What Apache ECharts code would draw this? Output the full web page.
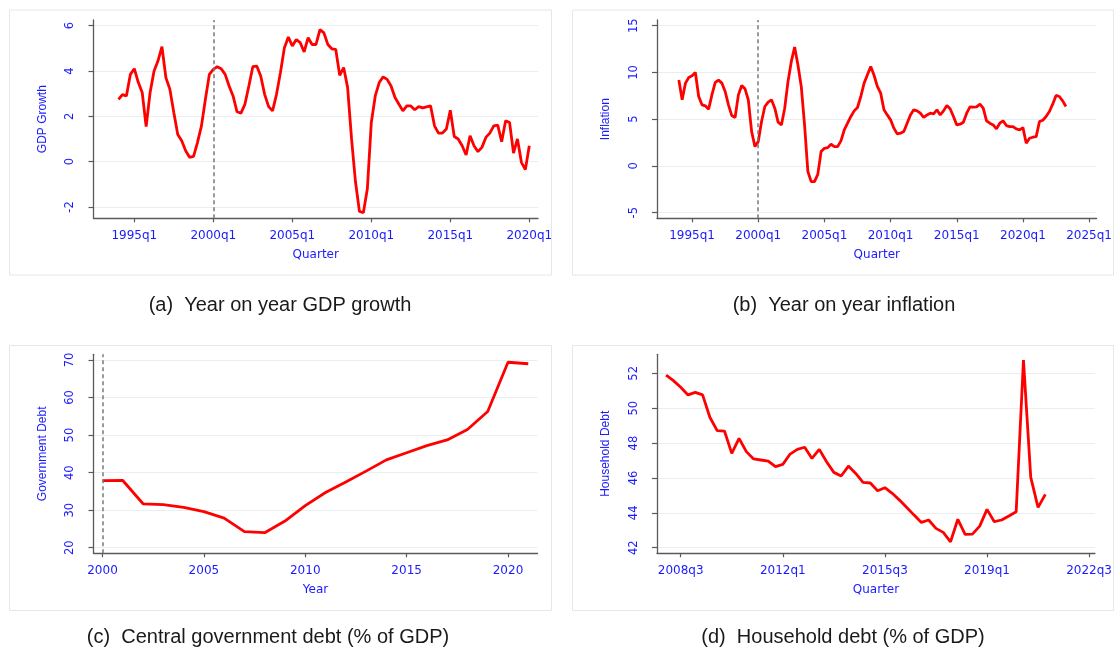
<!DOCTYPE html>
<html style="height: 100%">
<head>
    <meta charset="utf-8">
</head>
<body style="height: 100%; margin: 0; background: #fff">
<div id="container" style="width: 1115px; height: 650px"></div>
<script type="text/javascript" src="https://cdn.jsdelivr.net/npm/echarts@6/dist/echarts.min.js"></script>
<script type="text/javascript">
    // quarters are counted Stata style: 1960q1 = 0
    const gdpStart = 136; // 1994q1
    const gdpGrowth = [
        2.75, 2.96, 2.9, 3.85,
        4.1, 3.5, 3.05, 1.55,
        3.05, 4.0, 4.45, 5.07,
        3.7, 3.2, 2.17, 1.2,
        0.92, 0.48, 0.19, 0.23,
        0.85, 1.58, 2.75, 3.85,
        4.07, 4.19, 4.1, 3.85,
        3.34, 2.9, 2.2, 2.14,
        2.53, 3.34, 4.19, 4.22,
        3.78, 2.97, 2.43, 2.24,
        2.97, 3.93, 5.03, 5.5,
        5.1, 5.39, 5.25, 4.84,
        5.47, 5.17, 5.17, 5.83,
        5.68, 5.17, 4.98, 4.95,
        3.81, 4.15, 3.27, 1.0,
        -0.9, -2.2, -2.25, -1.2,
        1.73, 2.9, 3.49, 3.74,
        3.63, 3.34, 2.83, 2.53,
        2.24, 2.46, 2.46, 2.29,
        2.43, 2.37, 2.42, 2.46,
        1.58, 1.26, 1.26, 1.44,
        2.27, 1.11, 1.0, 0.7,
        0.29, 1.14, 0.7, 0.44,
        0.63, 1.07, 1.26, 1.58,
        1.61, 0.88, 1.8, 1.73,
        0.38, 1.0, -0.03, -0.35,
        0.7
    ];

    const inflStart = 136; // 1994q1
    const inflation = [
        9.2, 7.07, 8.86, 9.46,
        9.64, 10.0, 7.43, 6.54,
        6.43, 6.07, 7.6, 8.93,
        9.18, 8.86, 7.96, 6.54,
        5.39, 5.18, 7.6, 8.6,
        8.25, 7.07, 3.68, 2.07,
        2.6, 4.75, 6.36, 6.82,
        7.07, 6.18, 4.68, 4.39,
        6.18, 9.04, 11.18, 12.71,
        10.8, 8.5, 4.39, -0.6,
        -1.68, -1.68, -0.9, 1.54,
        1.89, 1.96, 2.32, 2.07,
        2.07, 2.68, 3.86, 4.57,
        5.29, 5.89, 6.25, 7.43,
        8.86, 9.75, 10.64, 9.7,
        8.5, 7.79, 6.0, 5.46,
        4.93, 4.04, 3.43, 3.5,
        3.68, 4.57, 5.46, 6.0,
        5.89, 5.64, 5.18, 5.46,
        5.64, 5.57, 6.0, 5.46,
        5.89, 6.46, 6.11, 5.29,
        4.39, 4.46, 4.68, 5.64,
        6.32, 6.29, 6.32, 6.61,
        6.18, 4.82, 4.57, 4.39,
        3.96, 4.57, 4.82, 4.32,
        4.21, 4.21, 3.96, 3.86,
        4.1, 2.43, 2.96, 3.07,
        3.14, 4.75, 4.89, 5.29,
        5.82, 6.61, 7.54, 7.43,
        6.96, 6.36
    ];

    const debtYears = [2000, 2001, 2002, 2003, 2004, 2005, 2006, 2007, 2008, 2009, 2010,
        2011, 2012, 2013, 2014, 2015, 2016, 2017, 2018, 2019, 2020, 2021];
    const govDebt = [37.85, 37.9, 31.7, 31.45, 30.75, 29.6, 27.9, 24.3, 24.0, 27.1, 31.2,
        34.7, 37.5, 40.4, 43.4, 45.3, 47.2, 48.7, 51.5, 56.3, 69.4, 69.0];

    const hhStart = 192; // 2008q1
    const hhDebt = [
        51.9, 51.58, 51.2, 50.76,
        50.91, 50.76, 49.48, 48.71,
        48.69, 47.41, 48.27, 47.51,
        47.09, 47.03, 46.97, 46.65,
        46.78, 47.37, 47.64, 47.76,
        47.12, 47.64, 46.93, 46.32,
        46.11, 46.68, 46.26, 45.75,
        45.71, 45.27, 45.44, 45.12,
        44.73, 44.31, 43.87, 43.45,
        43.59, 43.11, 42.88, 42.34,
        43.63, 42.76, 42.78, 43.24,
        44.2, 43.49, 43.59, 43.82,
        44.06, 52.76, 46.03, 44.31,
        45.06
    ];

    const gdpTicksX = [140, 160, 180, 200, 220, 240];       // 1995q1 .. 2020q1
    const inflTicksX = [140, 160, 180, 200, 220, 240, 260]; // 1995q1 .. 2025q1
    const yearTicksX = [2000, 2005, 2010, 2015, 2020];
    const hhTicksX = [194, 208, 222, 236, 250];             // 2008q3 .. 2022q3
    const gdpTicksY = [-2, 0, 2, 4, 6];
    const inflTicksY = [-5, 0, 5, 10, 15];
    const govTicksY = [20, 30, 40, 50, 60, 70];
    const hhTicksY = [42, 44, 46, 48, 50, 52];

    const captions = [
        '(a)  Year on year GDP growth',
        '(b)  Year on year inflation',
        '(c)  Central government debt (% of GDP)',
        '(d)  Household debt (% of GDP)'
    ];

    function qLabel(v) {
        const y = 1960 + Math.floor(v / 4);
        return y + 'q' + (v - (y - 1960) * 4 + 1);
    }
    function toPairs(start, arr) {
        return arr.map(function (v, i) { return [start + i, v]; });
    }

    var blue = '#1a1aff';
    var axisGray = '#5a5a5a';

    function xAx(gi, min, max, ticks, name, fmt) {
        return {
            type: 'value', gridIndex: gi, min: min, max: max,
            name: name, nameLocation: 'middle', nameGap: 31,
            nameTextStyle: {color: blue, fontFamily: 'DejaVu Sans', fontSize: 12},
            axisLine: {show: true, onZero: false, lineStyle: {color: axisGray, width: 1.3}},
            axisTick: {show: true, length: 4, customValues: ticks, lineStyle: {color: axisGray, width: 1.2}},
            axisLabel: {customValues: ticks, formatter: fmt, color: blue, fontFamily: 'DejaVu Sans',
                fontSize: 12, margin: 12},
            splitLine: {show: false}
        };
    }
    function yAx(gi, min, max, ticks, name) {
        return {
            type: 'value', gridIndex: gi, min: min, max: max,
            name: name, nameLocation: 'middle', nameGap: 45,
            nameTextStyle: {color: blue, fontFamily: "'Liberation Sans Narrow', 'Liberation Sans'", fontSize: 12},
            axisLine: {show: true, onZero: false, lineStyle: {color: axisGray, width: 1.3}},
            axisTick: {show: true, length: 5, customValues: ticks, lineStyle: {color: axisGray, width: 1.2}},
            axisLabel: {customValues: ticks, rotate: 90, color: blue, fontFamily: 'DejaVu Sans',
                fontSize: 11.5, margin: 17},
            splitLine: {show: true, lineStyle: {color: '#e9efef', width: 1.2}}
        };
    }
    function lineSeries(i, data, vline) {
        var s = {
            type: 'line', xAxisIndex: i, yAxisIndex: i, data: data,
            showSymbol: false, symbol: 'none',
            lineStyle: {color: '#ff0000', width: 2.8},
            z: 3
        };
        if (vline !== undefined) {
            s.markLine = {
                silent: true, symbol: ['none', 'none'], label: {show: false},
                lineStyle: {color: '#7a7a7a', type: [4, 3], width: 1.5},
                data: [{xAxis: vline}]
            };
        }
        return s;
    }

    var dom = document.getElementById('container');
    var myChart = echarts.init(dom);

    var boxStyle = {fill: 'transparent', stroke: '#e2e8e8', lineWidth: 1};
    var capFont = "20px 'Liberation Sans', Arial, sans-serif";

    var option = {
        animation: false,
        backgroundColor: '#ffffff',
        grid: [
            {left: 93.5, top: 20, width: 444.5, height: 198.3},
            {left: 657, top: 20, width: 443, height: 198.3},
            {left: 93.5, top: 354.3, width: 444, height: 199},
            {left: 657, top: 354.3, width: 444, height: 199}
        ],
        xAxis: [
            xAx(0, 129.67, 242.2, gdpTicksX, 'Quarter', qLabel),
            xAx(1, 129.4, 262.25, inflTicksX, 'Quarter', qLabel),
            xAx(2, 1999.556, 2021.455, yearTicksX, 'Year', function (v) { return String(v); }),
            xAx(3, 190.75, 250.8, hhTicksX, 'Quarter', qLabel)
        ],
        yAxis: [
            yAx(0, -2.5, 6.25, gdpTicksY, 'GDP Growth'),
            yAx(1, -5.6, 15.61, inflTicksY, 'Inflation'),
            yAx(2, 18.51, 71.52, govTicksY, 'Government Debt'),
            yAx(3, 41.68, 53.09, hhTicksY, 'Household Debt')
        ],
        series: [
            lineSeries(0, toPairs(gdpStart, gdpGrowth), 160),
            lineSeries(1, toPairs(inflStart, inflation), 160),
            lineSeries(2, debtYears.map(function (y, i) { return [y, govDebt[i]]; }), 2000),
            lineSeries(3, toPairs(hhStart, hhDebt))
        ],
        graphic: [
            {type: 'rect', silent: true, z: -1, shape: {x: 9.5, y: 10, width: 542, height: 265}, style: boxStyle},
            {type: 'rect', silent: true, z: -1, shape: {x: 572.5, y: 10, width: 541, height: 265}, style: boxStyle},
            {type: 'rect', silent: true, z: -1, shape: {x: 9.5, y: 345.5, width: 542, height: 265}, style: boxStyle},
            {type: 'rect', silent: true, z: -1, shape: {x: 572.5, y: 345.5, width: 541, height: 265}, style: boxStyle},
            {type: 'text', x: 280, y: 305, style: {text: captions[0], font: capFont, fill: '#1a1a1a', align: 'center', verticalAlign: 'middle'}},
            {type: 'text', x: 844, y: 305, style: {text: captions[1], font: capFont, fill: '#1a1a1a', align: 'center', verticalAlign: 'middle'}},
            {type: 'text', x: 268, y: 637, style: {text: captions[2], font: capFont, fill: '#1a1a1a', align: 'center', verticalAlign: 'middle'}},
            {type: 'text', x: 843, y: 637, style: {text: captions[3], font: capFont, fill: '#1a1a1a', align: 'center', verticalAlign: 'middle'}}
        ]
    };

    myChart.setOption(option);
</script>
</body>
</html>
